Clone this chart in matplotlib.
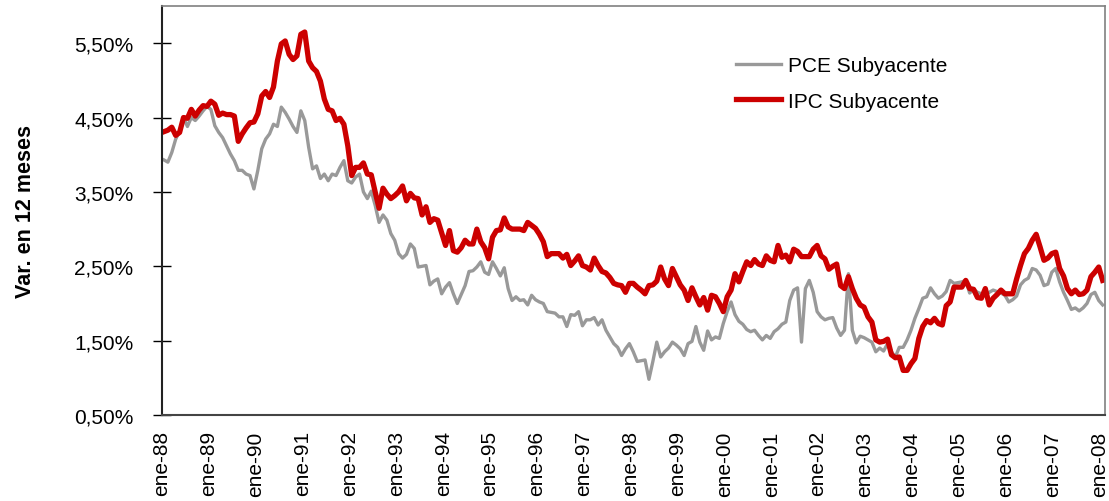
import matplotlib
matplotlib.use('Agg')
import matplotlib.pyplot as plt
import numpy as np

# Variación en 12 meses, mensual desde ene-88 hasta ene-08
ipc = [
    4.31, 4.33, 4.37, 4.26, 4.30, 4.50, 4.49, 4.61, 4.52, 4.60, 4.66, 4.65,  # 1988
    4.72, 4.68, 4.53, 4.56, 4.54, 4.54, 4.52, 4.18, 4.28, 4.36, 4.43, 4.44,  # 1989
    4.55, 4.79, 4.85, 4.77, 4.91, 5.26, 5.49, 5.53, 5.35, 5.28, 5.33, 5.62,  # 1990
    5.65, 5.26, 5.17, 5.12, 4.99, 4.75, 4.61, 4.59, 4.46, 4.49, 4.41, 4.12,  # 1991
    3.72, 3.83, 3.83, 3.89, 3.74, 3.73, 3.50, 3.28, 3.55, 3.47, 3.41, 3.45,  # 1992
    3.50, 3.58, 3.38, 3.48, 3.42, 3.41, 3.19, 3.30, 3.09, 3.14, 3.12, 2.95,  # 1993
    2.78, 2.98, 2.71, 2.69, 2.75, 2.85, 2.80, 2.80, 3.00, 2.83, 2.75, 2.60,  # 1994
    2.89, 2.98, 2.99, 3.15, 3.03, 3.00, 3.00, 3.00, 2.98, 3.09, 3.05, 3.01,  # 1995
    2.93, 2.83, 2.63, 2.67, 2.67, 2.67, 2.61, 2.66, 2.51, 2.57, 2.64, 2.51,  # 1996
    2.49, 2.45, 2.61, 2.51, 2.43, 2.41, 2.35, 2.27, 2.25, 2.24, 2.15, 2.27,  # 1997
    2.27, 2.22, 2.18, 2.13, 2.24, 2.25, 2.30, 2.49, 2.33, 2.24, 2.47, 2.36,  # 1998
    2.25, 2.18, 2.04, 2.21, 2.09, 1.98, 2.08, 1.91, 2.11, 2.09, 2.00, 1.89,  # 1999
    2.09, 2.18, 2.40, 2.29, 2.43, 2.56, 2.51, 2.59, 2.53, 2.51, 2.64, 2.58,  # 2000
    2.56, 2.78, 2.62, 2.65, 2.56, 2.73, 2.70, 2.63, 2.63, 2.63, 2.73, 2.78,  # 2001
    2.64, 2.60, 2.46, 2.50, 2.53, 2.24, 2.20, 2.36, 2.20, 2.07, 1.98, 1.95,  # 2002
    1.82, 1.75, 1.51, 1.48, 1.49, 1.52, 1.31, 1.27, 1.28, 1.10, 1.10, 1.19,  # 2003
    1.26, 1.53, 1.69, 1.77, 1.74, 1.80, 1.73, 1.71, 1.97, 2.02, 2.22, 2.22,  # 2004
    2.22, 2.31, 2.20, 2.19, 2.08, 2.07, 2.20, 1.98, 2.07, 2.12, 2.18, 2.13,  # 2005
    2.13, 2.13, 2.33, 2.51, 2.67, 2.74, 2.85, 2.93, 2.76, 2.58, 2.61, 2.67,  # 2006
    2.69, 2.47, 2.37, 2.20, 2.13, 2.18, 2.12, 2.13, 2.18, 2.36, 2.42, 2.49,  # 2007
    2.31,                                                                    # 2008
]

pce = [
    3.93, 3.90, 4.03, 4.21, 4.32, 4.50, 4.38, 4.50, 4.46, 4.52, 4.59, 4.65,  # 1988
    4.61, 4.39, 4.30, 4.23, 4.12, 4.01, 3.92, 3.79, 3.79, 3.74, 3.72, 3.54,  # 1989
    3.79, 4.08, 4.21, 4.28, 4.41, 4.38, 4.64, 4.57, 4.48, 4.38, 4.30, 4.59,  # 1990
    4.46, 4.10, 3.81, 3.85, 3.68, 3.74, 3.65, 3.74, 3.72, 3.83, 3.92, 3.65,  # 1991
    3.62, 3.70, 3.74, 3.50, 3.41, 3.51, 3.32, 3.09, 3.19, 3.12, 2.94, 2.85,  # 1992
    2.67, 2.61, 2.66, 2.80, 2.74, 2.49, 2.50, 2.51, 2.25, 2.30, 2.33, 2.13,  # 1993
    2.22, 2.28, 2.13, 2.00, 2.12, 2.24, 2.43, 2.44, 2.49, 2.56, 2.42, 2.39,  # 1994
    2.56, 2.47, 2.37, 2.48, 2.20, 2.04, 2.09, 2.04, 2.05, 1.98, 2.11, 2.05,  # 1995
    2.02, 2.00, 1.89, 1.88, 1.87, 1.82, 1.82, 1.69, 1.85, 1.84, 1.89, 1.70,  # 1996
    1.78, 1.78, 1.81, 1.71, 1.78, 1.64, 1.55, 1.46, 1.41, 1.30, 1.39, 1.46,  # 1997
    1.35, 1.22, 1.23, 1.24, 0.98, 1.22, 1.48, 1.28, 1.35, 1.40, 1.48, 1.44,  # 1998
    1.39, 1.30, 1.46, 1.49, 1.69, 1.48, 1.37, 1.63, 1.51, 1.55, 1.53, 1.73,  # 1999
    1.89, 2.02, 1.85, 1.76, 1.72, 1.65, 1.62, 1.64, 1.57, 1.51, 1.57, 1.53,  # 2000
    1.62, 1.66, 1.72, 1.75, 2.04, 2.18, 2.21, 1.48, 2.20, 2.31, 2.15, 1.89,  # 2001
    1.82, 1.78, 1.80, 1.81, 1.67, 1.57, 1.64, 2.40, 1.64, 1.47, 1.56, 1.54,  # 2002
    1.51, 1.48, 1.35, 1.40, 1.36, 1.46, 1.35, 1.28, 1.41, 1.41, 1.51, 1.64,  # 2003
    1.80, 1.93, 2.07, 2.09, 2.21, 2.13, 2.07, 2.10, 2.16, 2.31, 2.27, 2.28,  # 2004
    2.29, 2.31, 2.14, 2.19, 2.15, 2.13, 2.12, 2.15, 2.18, 2.16, 2.14, 2.11,  # 2005
    2.02, 2.05, 2.10, 2.25, 2.31, 2.34, 2.47, 2.45, 2.38, 2.24, 2.26, 2.42,  # 2006
    2.47, 2.29, 2.15, 2.04, 1.92, 1.94, 1.90, 1.94, 2.00, 2.12, 2.15, 2.04,  # 2007
    1.98,                                                                    # 2008
]

x_labels = ['ene-88', 'ene-89', 'ene-90', 'ene-91', 'ene-92', 'ene-93', 'ene-94',
            'ene-95', 'ene-96', 'ene-97', 'ene-98', 'ene-99', 'ene-00', 'ene-01',
            'ene-02', 'ene-03', 'ene-04', 'ene-05', 'ene-06', 'ene-07', 'ene-08']
y_ticks = [0.5, 1.5, 2.5, 3.5, 4.5, 5.5]
y_labels = ['0,50%', '1,50%', '2,50%', '3,50%', '4,50%', '5,50%']

plt.rcParams['font.family'] = ['Liberation Sans', 'DejaVu Sans']

fig = plt.figure(figsize=(11.09, 5.02), dpi=100)
ax = fig.add_axes([162 / 1109, 1 - 416 / 502, (1105 - 162) / 1109, (416 - 7) / 502])

meses = np.arange(len(ipc))
ax.plot(meses, pce, color='#999999', lw=2.4, label='PCE Subyacente', solid_joinstyle='round')
ax.plot(meses, ipc, color='#CC0000', lw=3.8, label='IPC Subyacente', solid_joinstyle='round')

ax.set_xlim(-0.5, len(ipc) - 0.4)
ax.set_ylim(0.5, 6.0)

# etiquetas entre categorías, como en el eje de Excel
ax.set_xticks(np.linspace(-0.5, len(ipc) - 1.9, len(x_labels)))
ax.set_xticklabels(x_labels, rotation=90, fontsize=15)
ax.tick_params(axis='x', length=0, pad=11)

ax.set_yticks(y_ticks)
ax.set_yticklabels(y_labels, fontsize=15)
ax.tick_params(axis='y', direction='inout', length=13, width=1, pad=14)

ax.set_ylabel('Var. en 12 meses', fontsize=15.5, fontweight='bold')
ax.yaxis.set_label_coords(-0.134, 0.5)

for lado in ['top', 'right']:
    ax.spines[lado].set_color('#808080')
    ax.spines[lado].set_linewidth(1.2)
ax.spines['left'].set_color('#222222')
ax.spines['left'].set_linewidth(1.5)
ax.spines['bottom'].set_color('#444444')
ax.spines['bottom'].set_linewidth(1.5)

ax.legend(loc='upper left', bbox_to_anchor=(0.6, 0.898), frameon=False, fontsize=15,
          handlelength=2.15, handletextpad=0.35, labelspacing=0.8, borderaxespad=0)

fig.savefig('out.png', dpi=100)
